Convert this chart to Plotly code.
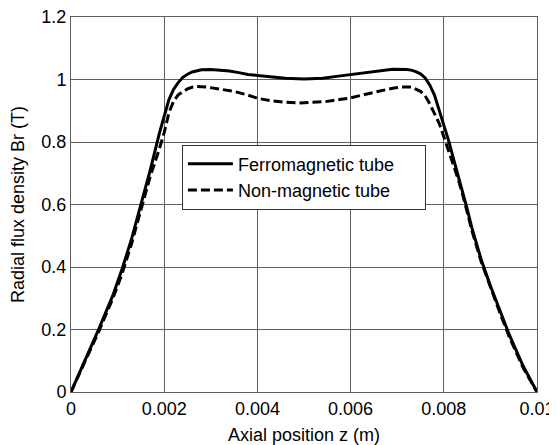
import plotly.graph_objects as go

# axial position (m) and radial flux density (T)
z_ferro = [0, 0.0003, 0.0006, 0.0009, 0.0011, 0.0013, 0.0015, 0.0017, 0.0019, 0.0020,
           0.0021, 0.0022, 0.0023, 0.0024, 0.0025, 0.0026, 0.0028, 0.0030, 0.0032, 0.0034,
           0.0036, 0.0038, 0.0040, 0.0043, 0.0046, 0.0050, 0.0054, 0.0057, 0.0060, 0.0063,
           0.0066, 0.0069, 0.0072, 0.0073, 0.0074, 0.0075, 0.0076, 0.0077, 0.0078, 0.0079,
           0.0080, 0.0081, 0.0082, 0.0083, 0.0084, 0.0085, 0.0086, 0.0088, 0.0090, 0.0092,
           0.0094, 0.0097, 0.0100]
b_ferro = [0, 0.10, 0.203, 0.31, 0.395, 0.49, 0.60, 0.71, 0.83, 0.88,
           0.935, 0.968, 0.99, 1.007, 1.017, 1.024, 1.031, 1.032, 1.030, 1.027,
           1.022, 1.016, 1.013, 1.008, 1.004, 1.002, 1.004, 1.010, 1.016, 1.022,
           1.029, 1.033, 1.032, 1.030, 1.025, 1.018, 1.005, 0.982, 0.95, 0.905,
           0.854, 0.806, 0.753, 0.70, 0.648, 0.587, 0.527, 0.425, 0.34, 0.262,
           0.185, 0.084, 0]

z_nonmag = [0, 0.0003, 0.0006, 0.0009, 0.0011, 0.0013, 0.0015, 0.0017, 0.0019, 0.0020,
            0.0021, 0.0022, 0.0023, 0.0024, 0.0025, 0.0026, 0.0027, 0.0029, 0.0032, 0.0035,
            0.0038, 0.0040, 0.0043, 0.0046, 0.0049, 0.0052, 0.0055, 0.0058, 0.0060, 0.0063,
            0.0066, 0.0069, 0.0071, 0.0073, 0.0075, 0.0076, 0.0077, 0.0078, 0.0079, 0.0080,
            0.0081, 0.0082, 0.0083, 0.0084, 0.0085, 0.0086, 0.0088, 0.0090, 0.0092, 0.0094,
            0.0097, 0.0100]
b_nonmag = [0, 0.095, 0.195, 0.30, 0.38, 0.475, 0.58, 0.69, 0.78, 0.83,
            0.893, 0.93, 0.951, 0.962, 0.970, 0.975, 0.978, 0.976, 0.970, 0.962,
            0.950, 0.940, 0.932, 0.927, 0.925, 0.927, 0.930, 0.937, 0.941, 0.952,
            0.963, 0.972, 0.976, 0.976, 0.962, 0.948, 0.922, 0.892, 0.86, 0.817,
            0.774, 0.73, 0.685, 0.635, 0.578, 0.518, 0.418, 0.333, 0.255, 0.178,
            0.078, 0]

x_ticks = [0, 0.002, 0.004, 0.006, 0.008, 0.01]
x_labels = ["0", "0.002", "0.004", "0.006", "0.008", "0.01"]
y_ticks = [0, 0.2, 0.4, 0.6, 0.8, 1.0, 1.2]
y_labels = ["0", "0.2", "0.4", "0.6", "0.8", "1", "1.2"]

font = "Liberation Sans, Arial, sans-serif"
pad = "\u00a0" * 5  # widens the legend box on the right

fig = go.Figure()
fig.add_trace(go.Scatter(x=z_ferro, y=b_ferro, mode="lines", name="Ferromagnetic tube" + pad,
                         line=dict(color="black", width=3)))
fig.add_trace(go.Scatter(x=z_nonmag, y=b_nonmag, mode="lines", name="Non-magnetic tube" + pad,
                         line=dict(color="black", width=3, dash="9px,4px")))

axis_style = dict(showgrid=True, gridcolor="#5f5f5f", gridwidth=1, zeroline=False,
                  showline=True, linecolor="#5f5f5f", linewidth=1, mirror=True,
                  ticks="", automargin=False, ticklabeloverflow="allow",
                  tickfont=dict(size=18, color="black"))

fig.update_xaxes(range=[0, 0.01], tickvals=x_ticks, ticktext=x_labels,
                 title=dict(text="Axial position z (m)", font=dict(size=18, color="black"), standoff=14),
                 **axis_style)
fig.update_yaxes(range=[0, 1.2], tickvals=y_ticks, ticktext=y_labels,
                 title=dict(text="Radial flux density Br (T)", font=dict(size=18, color="black"), standoff=15),
                 **axis_style)

# the page body adds an 8px offset, so the figure is sized 8px smaller
fig.update_layout(
    width=549, height=437,
    margin=dict(l=63, r=20, t=9, b=53, autoexpand=False),
    paper_bgcolor="white", plot_bgcolor="white",
    font=dict(family=font, size=18, color="black"),
    showlegend=True,
    legend=dict(x=0.238, y=0.66, xanchor="left", yanchor="top",
                bgcolor="white", bordercolor="#333333", borderwidth=1,
                font=dict(size=18), tracegroupgap=0, itemwidth=45),
)

fig.write_html("out.html")
